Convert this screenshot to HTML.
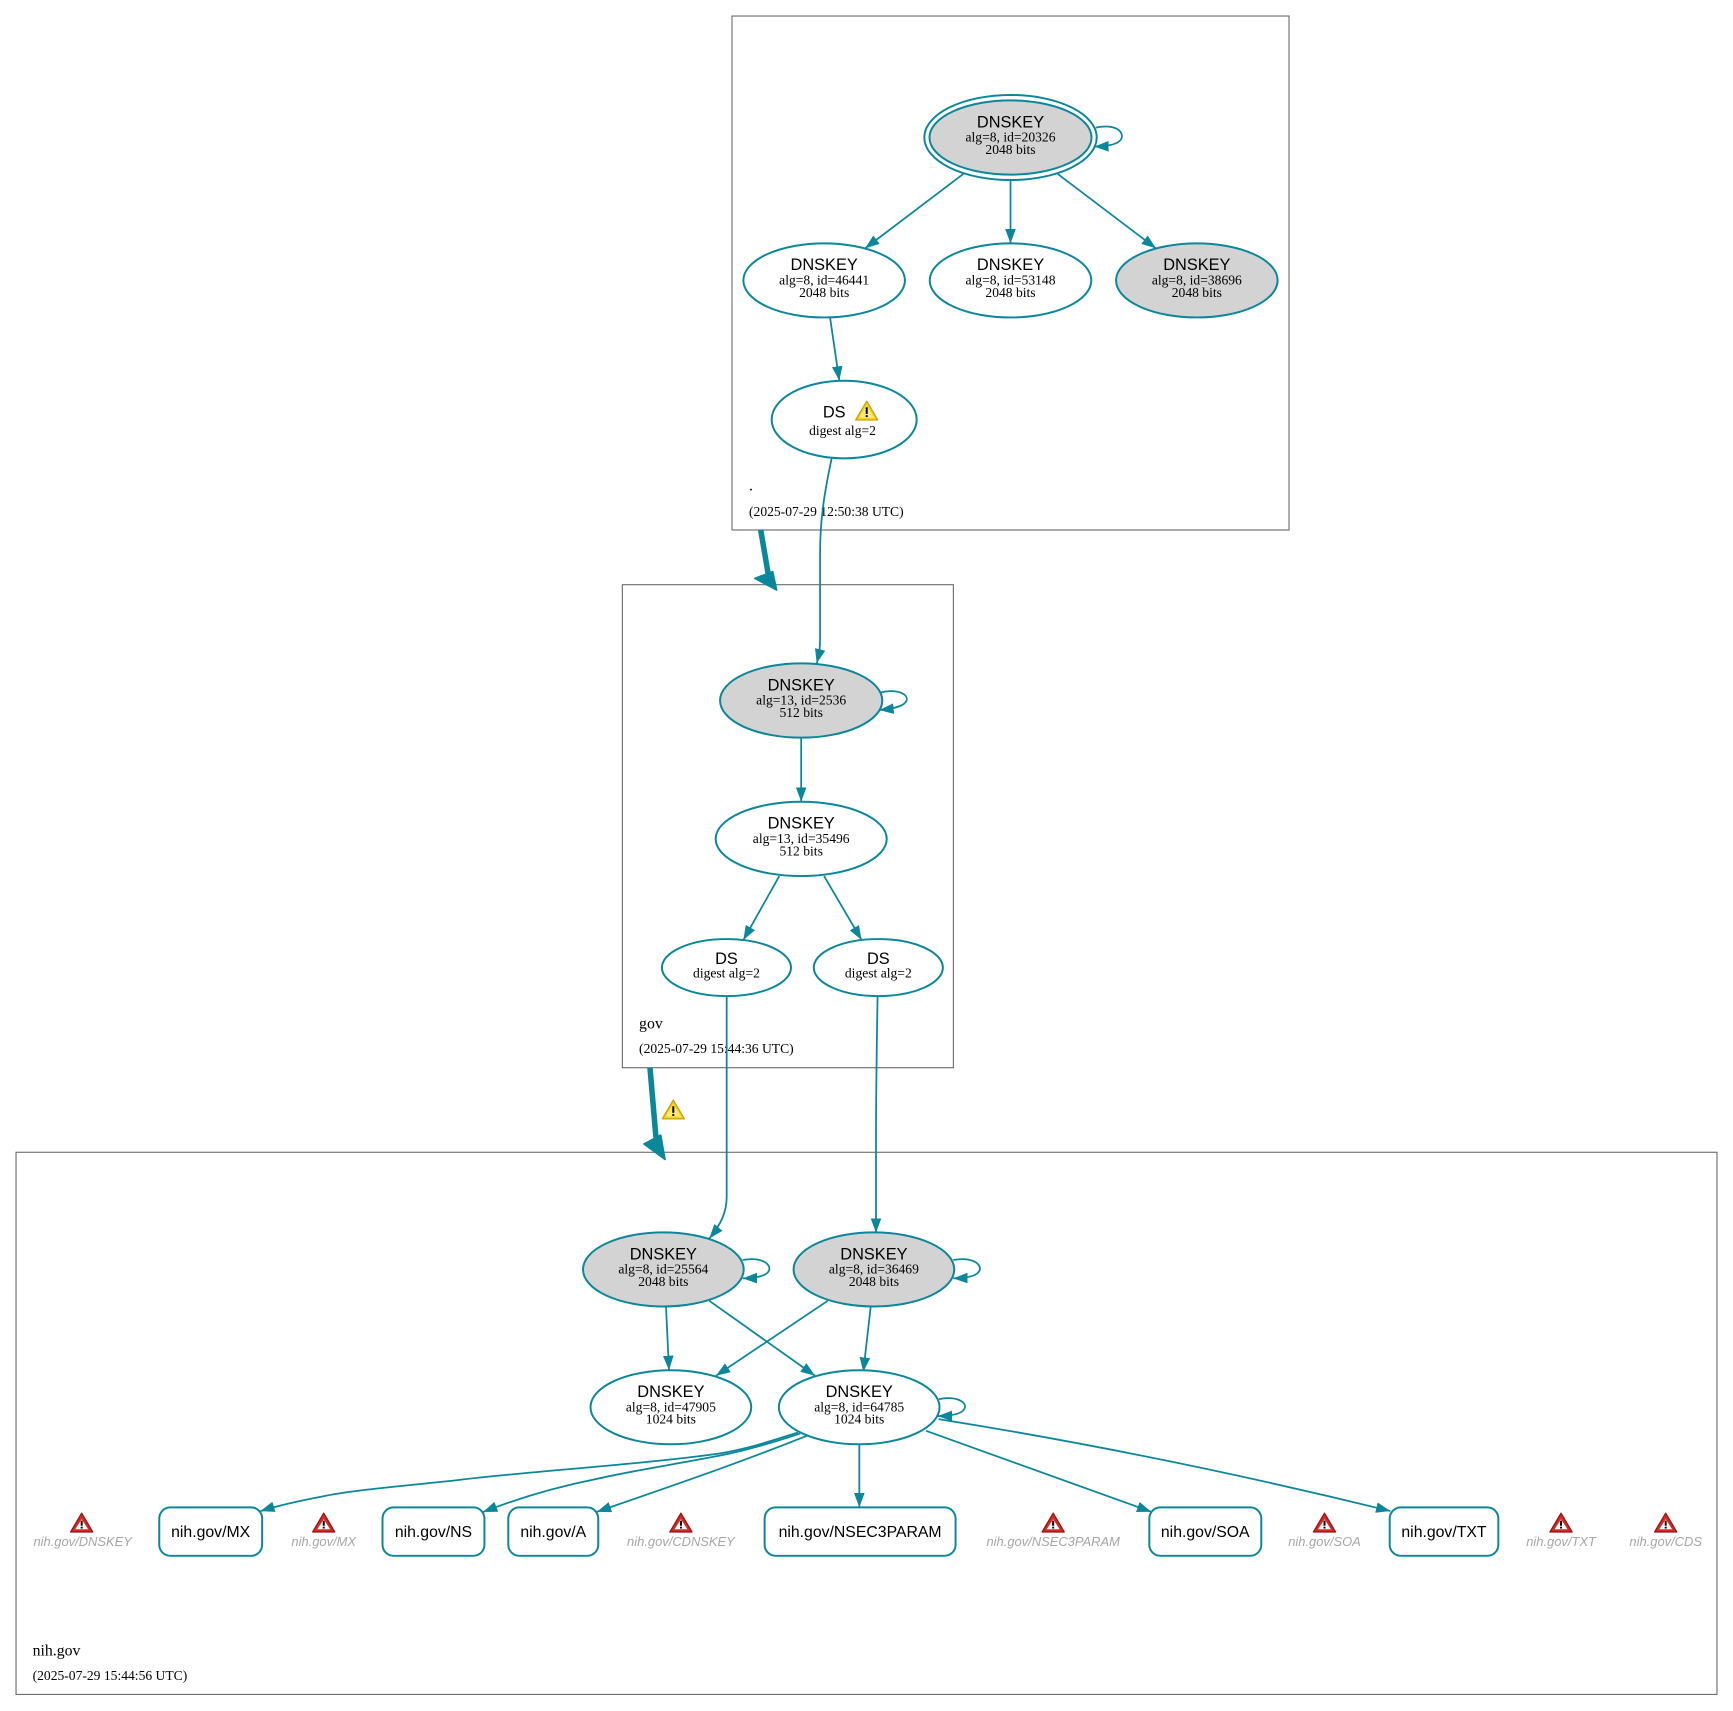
<!DOCTYPE html>
<html><head><meta charset="utf-8"><style>
html,body{margin:0;padding:0;background:#fff;}
svg{display:block;}
.s{font-family:"Liberation Sans",Arial,sans-serif;}
.r{font-family:"Liberation Serif","Times New Roman",serif;}
</style></head><body>
<svg xmlns="http://www.w3.org/2000/svg" xmlns:xlink="http://www.w3.org/1999/xlink" width="1733" height="1711" viewBox="0 0 1568 1548" preserveAspectRatio="none">
<defs>
<marker id="a" markerUnits="userSpaceOnUse" markerWidth="15" markerHeight="12" refX="13" refY="6" orient="auto">
<path d="M0,1.2 L13,6 L0,10.8 z" fill="#0a879a"/>
</marker>
<g id="err">
<path d="M0,-9 L10,8 L-10,8 Z" fill="#d42a2a" stroke="#9a1414" stroke-width="1.2" stroke-linejoin="round"/>
<path d="M0,-3.5 L5.8,5.6 L-5.8,5.6 Z" fill="#fff"/>
<rect x="-0.9" y="-2.2" width="1.8" height="4.6" fill="#000"/>
<rect x="-0.9" y="3.3" width="1.8" height="1.6" fill="#000"/>
</g>
<g id="warn">
<path d="M0,-9 L10,8 L-10,8 Z" fill="#f3d21c" stroke="#c9a411" stroke-width="1.2" stroke-linejoin="round"/>
<path d="M0,-5 L7,6 L-7,6 Z" fill="#fbe97a"/>
<rect x="-0.9" y="-3.5" width="1.8" height="6" fill="#000"/>
<rect x="-0.9" y="3.6" width="1.8" height="1.7" fill="#000"/>
</g>
</defs>

<!-- clusters -->
<rect x="662.3" y="14.5" width="504" height="465" fill="none" stroke="#6a6a6a" stroke-width="1"/>
<rect x="563.1" y="529" width="299.5" height="437" fill="none" stroke="#6a6a6a" stroke-width="1"/>
<rect x="14.5" y="1042.5" width="1539" height="490.5" fill="none" stroke="#6a6a6a" stroke-width="1"/>

<g class="r" fill="#000">
<text x="677.7" y="443.9" font-size="14.3">.</text>
<text x="677.7" y="466.9" font-size="12.3">(2025-07-29 12:50:38 UTC)</text>
<text x="578.2" y="930.4" font-size="14.3">gov</text>
<text x="578.2" y="952.5" font-size="12.3">(2025-07-29 15:44:36 UTC)</text>
<text x="29.5" y="1497.7" font-size="14.3">nih.gov</text>
<text x="29.5" y="1520" font-size="12.3">(2025-07-29 15:44:56 UTC)</text>
</g>

<!-- edges -->
<g fill="none" stroke="#0a879a" stroke-width="1.6" marker-end="url(#a)">
<path d="M871.6,157.4 L782.7,224.7"/>
<path d="M914.3,162.9 L914.3,220.2"/>
<path d="M957,157.4 L1045.9,224.7"/>
<path d="M991.4,115.5 C1008,112 1016,118 1015,124.3 C1014,130 1004,132.3 990.1,132.7"/>
<path d="M751,287.1 L759.4,344.4"/>
<path d="M752.5,414.7 C746,445 742,470 742,500 L742,579 C742,588 740.5,594 739,600.2"/>

<path d="M797.2,626.4 C812,623 821.5,628 820.4,633.4 C819,638.5 810,641 795.6,642.4"/>
<path d="M724.9,667.4 L724.9,725.3"/>
<path d="M705.1,792.6 L672.6,850.5"/>
<path d="M745.6,792.6 L779.6,850.5"/>
<path d="M657.5,901.2 L657.5,1083 C657.5,1097 652,1108 641.8,1120.5"/>
<path d="M794,901.2 C793.2,950 792.6,990 792.6,1030 L792.6,1115.3"/>

<path d="M672,1140 C688,1137 697,1143 696.1,1148.5 C695,1154 686,1156.3 672,1156.6"/>
<path d="M862.5,1140 C878.5,1137 887.5,1143 886.6,1148.5 C885.5,1154 876.5,1156.3 862.5,1156.6"/>
<path d="M849.6,1265.8 C865,1263 874,1268 873.1,1273.3 C872,1279 862,1281 848.4,1281.2"/>
<path d="M602.6,1182.3 L605.3,1239.6"/>
<path d="M641.8,1176.9 L737.4,1244.7"/>
<path d="M748.9,1176.9 L647.8,1244.7"/>
<path d="M787.8,1182.3 L781.1,1241.1"/>

<path d="M777.5,1307.4 L777.5,1363.8"/>
<path d="M837.9,1294.5 L1041.7,1367.8"/>
<path d="M849.2,1283.9 Q1050,1316 1258,1367.1"/>
<path d="M722,1296 C700,1303 676,1311 651,1315 C580,1325 480,1331 415,1339 C360,1345 320,1348 291,1354 C270,1358 252,1362 235.5,1367.2"/>
<path d="M724,1297 C700,1305 676,1312 651,1317 C610,1325 575,1330 540,1338 C505,1345 470,1355 437,1368"/>
<path d="M730,1299 C700,1311 676,1320 651,1329 C615,1342 580,1354 540,1367.8"/>
</g>

<!-- thick delegation edges -->
<path d="M688.3,479.5 L695,519" stroke="#0a879a" stroke-width="5" fill="none"/>
<polygon points="683,523.3 699.1,517.2 702.7,533.8" fill="#0a879a" stroke="#0a879a" stroke-width="1.5" stroke-linejoin="round"/>
<path d="M588.1,966 L593.5,1029" stroke="#0a879a" stroke-width="5" fill="none"/>
<polygon points="582.7,1035 597.8,1027 601.7,1049" fill="#0a879a" stroke="#0a879a" stroke-width="1.5" stroke-linejoin="round"/>
<use xlink:href="#warn" href="#warn" transform="translate(609.2,1004.3)"/>

<!-- nodes -->
<g stroke="#0a879a" stroke-width="1.8">
<ellipse cx="914.3" cy="124.4" rx="78" ry="38.5" fill="none"/>
<ellipse cx="914.3" cy="124.4" rx="73.3" ry="33.6" fill="#d3d3d3"/>
<ellipse cx="745.7" cy="253.7" rx="73.1" ry="33.5" fill="#fff"/>
<ellipse cx="914.3" cy="253.7" rx="73.1" ry="33.5" fill="#fff"/>
<ellipse cx="1082.9" cy="253.7" rx="73.1" ry="33.5" fill="#d3d3d3"/>
<ellipse cx="763.8" cy="379.6" rx="65.6" ry="35.1" fill="#fff"/>

<ellipse cx="724.9" cy="633.8" rx="73.4" ry="33.6" fill="#d3d3d3"/>
<ellipse cx="724.9" cy="759" rx="77.4" ry="33.6" fill="#fff"/>
<ellipse cx="657.3" cy="875.4" rx="58.4" ry="25.8" fill="#fff"/>
<ellipse cx="794.7" cy="875.4" rx="58.4" ry="25.8" fill="#fff"/>

<ellipse cx="600.2" cy="1148.5" rx="72.7" ry="33.5" fill="#d3d3d3"/>
<ellipse cx="790.7" cy="1148.5" rx="72.7" ry="33.5" fill="#d3d3d3"/>
<ellipse cx="607" cy="1273.2" rx="72.7" ry="33.5" fill="#fff"/>
<ellipse cx="777.4" cy="1273.2" rx="72.7" ry="33.5" fill="#fff"/>

<rect x="144.1" y="1363.8" width="93.1" height="43.8" rx="10" fill="#fff"/>
<rect x="346.1" y="1363.8" width="92.2" height="43.8" rx="10" fill="#fff"/>
<rect x="459.9" y="1363.8" width="81.4" height="43.8" rx="10" fill="#fff"/>
<rect x="691.8" y="1363.8" width="172.8" height="43.8" rx="10" fill="#fff"/>
<rect x="1039.9" y="1363.8" width="101.3" height="43.8" rx="10" fill="#fff"/>
<rect x="1257.4" y="1363.8" width="98.3" height="43.8" rx="10" fill="#fff"/>
</g>

<!-- node labels -->
<g text-anchor="middle" fill="#000">
<g class="s" font-size="14.8">
<text x="914.3" y="115.2">DNSKEY</text>
<text x="745.7" y="244.5">DNSKEY</text>
<text x="914.3" y="244.5">DNSKEY</text>
<text x="1082.9" y="244.5">DNSKEY</text>
<text x="754.8" y="377.6">DS</text>
<text x="724.9" y="624.6">DNSKEY</text>
<text x="724.9" y="749.8">DNSKEY</text>
<text x="657.3" y="872.2">DS</text>
<text x="794.7" y="872.2">DS</text>
<text x="600.2" y="1139.3">DNSKEY</text>
<text x="790.7" y="1139.3">DNSKEY</text>
<text x="607" y="1264">DNSKEY</text>
<text x="777.4" y="1264">DNSKEY</text>
</g>
<g class="r" font-size="12.3">
<text x="914.3" y="128.2">alg=8, id=20326</text>
<text x="914.3" y="139.3">2048 bits</text>
<text x="745.7" y="257.5">alg=8, id=46441</text>
<text x="745.7" y="268.6">2048 bits</text>
<text x="914.3" y="257.5">alg=8, id=53148</text>
<text x="914.3" y="268.6">2048 bits</text>
<text x="1082.9" y="257.5">alg=8, id=38696</text>
<text x="1082.9" y="268.6">2048 bits</text>
<text x="762.3" y="393.6">digest alg=2</text>
<text x="724.9" y="637.6">alg=13, id=2536</text>
<text x="724.9" y="648.7">512 bits</text>
<text x="724.9" y="762.8">alg=13, id=35496</text>
<text x="724.9" y="773.9">512 bits</text>
<text x="657.3" y="884.6">digest alg=2</text>
<text x="794.7" y="884.6">digest alg=2</text>
<text x="600.2" y="1152.3">alg=8, id=25564</text>
<text x="600.2" y="1163.4">2048 bits</text>
<text x="790.7" y="1152.3">alg=8, id=36469</text>
<text x="790.7" y="1163.4">2048 bits</text>
<text x="607" y="1277">alg=8, id=47905</text>
<text x="607" y="1288.1">1024 bits</text>
<text x="777.4" y="1277">alg=8, id=64785</text>
<text x="777.4" y="1288.1">1024 bits</text>
</g>
<g class="s" font-size="14.3">
<text x="190.6" y="1390.7">nih.gov/MX</text>
<text x="392.2" y="1390.7">nih.gov/NS</text>
<text x="500.6" y="1390.7">nih.gov/A</text>
<text x="778.2" y="1390.7">nih.gov/NSEC3PARAM</text>
<text x="1090.5" y="1390.7">nih.gov/SOA</text>
<text x="1306.5" y="1390.7">nih.gov/TXT</text>
</g>
<g class="s" font-size="11.7" font-style="italic" fill="#a6a6a6">
<text x="74.8" y="1398.5">nih.gov/DNSKEY</text>
<text x="292.9" y="1398.5">nih.gov/MX</text>
<text x="616.1" y="1398.5">nih.gov/CDNSKEY</text>
<text x="952.9" y="1398.5">nih.gov/NSEC3PARAM</text>
<text x="1198.4" y="1398.5">nih.gov/SOA</text>
<text x="1412.4" y="1398.5">nih.gov/TXT</text>
<text x="1507.1" y="1398.5">nih.gov/CDS</text>
</g>
</g>

<use xlink:href="#warn" href="#warn" transform="translate(784.2,372)"/>
<use xlink:href="#err" href="#err" transform="translate(73.9,1378)"/>
<use xlink:href="#err" href="#err" transform="translate(292.9,1378)"/>
<use xlink:href="#err" href="#err" transform="translate(616.1,1378)"/>
<use xlink:href="#err" href="#err" transform="translate(952.9,1378)"/>
<use xlink:href="#err" href="#err" transform="translate(1198.4,1378)"/>
<use xlink:href="#err" href="#err" transform="translate(1412.4,1378)"/>
<use xlink:href="#err" href="#err" transform="translate(1507.1,1378)"/>
</svg>
</body></html>
